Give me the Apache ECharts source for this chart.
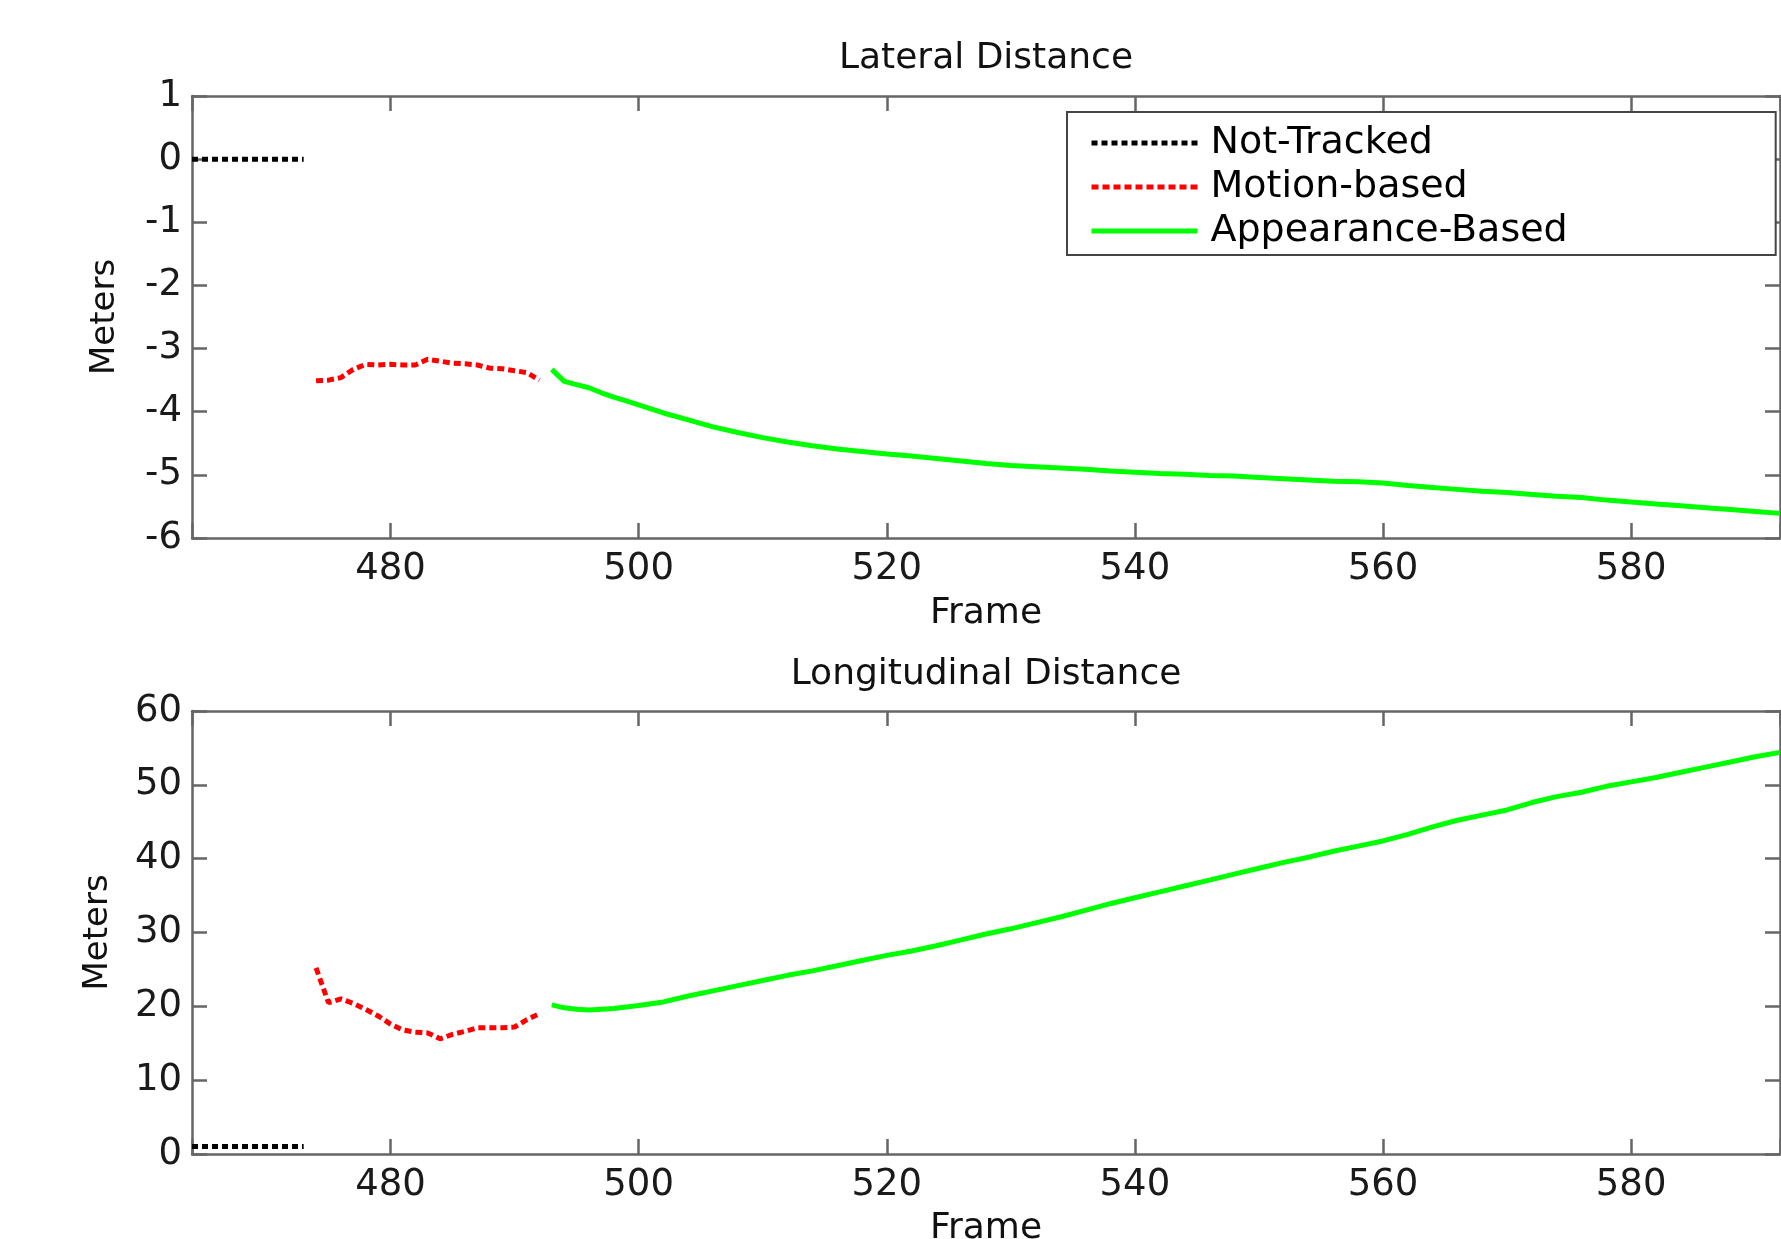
<!DOCTYPE html>
<html>
<head>
<meta charset="utf-8">
<title>Lateral / Longitudinal Distance</title>
<script src="https://cdn.jsdelivr.net/npm/echarts@6/dist/echarts.min.js"></script>
<style>
  html, body { margin: 0; padding: 0; background: #fff; }
  #chart { width: 1781px; height: 1239px; }
</style>
</head>
<body>
<div id="chart"></div>
<script>
// frames and values
const notTrackedFrames = [464, 465, 466, 467, 468, 469, 470, 471, 472, 473];
const notTrackedLateral = [0, 0, 0, 0, 0, 0, 0, 0, 0, 0];
const notTrackedLongitudinal = [1, 1, 1, 1, 1, 1, 1, 1, 1, 1];

const motionFrames = [474, 475, 476, 477, 478, 479, 480, 481, 482, 483, 484, 485, 486, 487, 488, 489, 490, 491, 492];
const motionLateral = [-3.51, -3.50, -3.46, -3.33, -3.25, -3.26, -3.25, -3.26, -3.26, -3.17, -3.20, -3.23, -3.24, -3.26, -3.31, -3.32, -3.35, -3.38, -3.50];
const motionLongitudinal = [25.2, 20.5, 21.0, 20.4, 19.6, 18.7, 17.6, 16.8, 16.5, 16.4, 15.6, 16.2, 16.6, 17.1, 17.1, 17.1, 17.2, 18.2, 19.0];

const appearanceFrames = [493, 494, 495, 496, 497, 498, 499, 500, 502, 504, 506, 508, 510, 512, 514, 516, 518, 520,
  522, 524, 526, 528, 530, 532, 534, 536, 538, 540, 542, 544, 546, 548, 550, 552, 554, 556, 558, 560,
  562, 564, 566, 568, 570, 572, 574, 576, 578, 580, 582, 584, 586, 588, 590, 592];
const appearanceLateral = [-3.33, -3.52, -3.57, -3.62, -3.70, -3.77, -3.83, -3.89, -4.02, -4.13, -4.24, -4.33, -4.41, -4.48, -4.54, -4.59, -4.63, -4.67,
  -4.70, -4.74, -4.78, -4.82, -4.85, -4.87, -4.89, -4.91, -4.94, -4.96, -4.98, -4.99, -5.01, -5.02, -5.04, -5.06, -5.08, -5.10, -5.11, -5.13,
  -5.17, -5.20, -5.23, -5.26, -5.28, -5.31, -5.34, -5.36, -5.40, -5.43, -5.46, -5.49, -5.52, -5.55, -5.58, -5.61];
const appearanceLongitudinal = [20.2, 19.8, 19.6, 19.5, 19.6, 19.7, 19.9, 20.1, 20.6, 21.4, 22.1, 22.8, 23.5, 24.2, 24.8, 25.5, 26.2, 26.9,
  27.5, 28.2, 29.0, 29.8, 30.5, 31.3, 32.1, 33.0, 33.9, 34.7, 35.5, 36.3, 37.1, 37.9, 38.7, 39.5, 40.2, 41.0, 41.7, 42.4,
  43.3, 44.3, 45.2, 45.9, 46.6, 47.6, 48.4, 49.0, 49.8, 50.4, 51.0, 51.7, 52.4, 53.1, 53.8, 54.4];

const frameRange = [464, 592];
const lateralRange = [-6, 1];
const longitudinalRange = [0, 60];

const FONT = 'DejaVu Sans';
const AXIS_COLOR = '#666';

const zip = (xs, ys) => xs.map((x, i) => [x, ys[i]]);

const boxLine = { show: true, onZero: false, lineStyle: { color: AXIS_COLOR, width: 2.5 } };
const boxTick = { show: true, inside: true, length: 15, lineStyle: { color: AXIS_COLOR, width: 2.5 } };

function frameAxis(grid, pos, name, gap) {
  return {
    type: 'value', gridIndex: grid, position: pos,
    min: frameRange[0], max: frameRange[1], splitNumber: 6,
    name: name, nameLocation: 'middle', nameGap: gap,
    nameTextStyle: { fontFamily: FONT, fontSize: 36, color: '#111' },
    axisLine: boxLine, axisTick: boxTick, splitLine: { show: false },
    axisLabel: {
      show: pos === 'bottom', margin: 13, fontFamily: FONT, fontSize: 37, color: '#1a1a1a',
      formatter: v => (v % 20 === 0 ? String(v) : '')
    }
  };
}

function meterAxis(grid, pos, range, step, gap) {
  return {
    type: 'value', gridIndex: grid, position: pos,
    min: range[0], max: range[1], interval: step,
    name: pos === 'left' ? 'Meters' : '', nameLocation: 'middle', nameGap: gap,
    nameTextStyle: { fontFamily: FONT, fontSize: 34, color: '#111' },
    axisLine: boxLine, axisTick: boxTick, splitLine: { show: false },
    axisLabel: { show: pos === 'left', margin: 10, fontFamily: FONT, fontSize: 37, color: '#1a1a1a' }
  };
}

function lineSeries(name, xi, frames, values, color, dash) {
  return {
    name: name, type: 'line', xAxisIndex: xi, yAxisIndex: xi,
    data: zip(frames, values), symbol: 'none', clip: true,
    itemStyle: { color: color },
    lineStyle: { color: color, width: 5, type: dash, cap: 'butt' }
  };
}

const chart = echarts.init(document.getElementById('chart'));
chart.setOption({
  animation: false,
  backgroundColor: '#fff',
  grid: [
    { left: 192, top: 96, right: 1, height: 442, outerBoundsMode: 'none' },
    { left: 192, top: 711, right: 1, height: 443, outerBoundsMode: 'none' }
  ],
  xAxis: [
    frameAxis(0, 'bottom', 'Frame', 58),
    frameAxis(0, 'top', 'Lateral Distance', 19),
    frameAxis(1, 'bottom', 'Frame', 57),
    frameAxis(1, 'top', 'Longitudinal Distance', 18)
  ],
  yAxis: [
    meterAxis(0, 'left', lateralRange, 1, 70),
    meterAxis(0, 'right', lateralRange, 1, 0),
    meterAxis(1, 'left', longitudinalRange, 10, 77),
    meterAxis(1, 'right', longitudinalRange, 10, 0)
  ],
  legend: {
    data: ['Not-Tracked', 'Motion-based', 'Appearance-Based'],
    orient: 'vertical', left: 1067, top: 112,
    padding: [11, 208, 4, 22],
    itemWidth: 106, itemHeight: 14, itemGap: 4,
    backgroundColor: '#fff', borderColor: '#444', borderWidth: 2,
    itemStyle: { opacity: 0 },
    lineStyle: { width: 5 },
    textStyle: { fontFamily: FONT, fontSize: 38, lineHeight: 40, color: '#000', padding: [0, 0, 0, 8] }
  },
  series: [
    lineSeries('Not-Tracked', 0, notTrackedFrames, notTrackedLateral, '#000000', [6, 4]),
    lineSeries('Motion-based', 0, motionFrames, motionLateral, '#ff0000', [7, 4]),
    lineSeries('Appearance-Based', 0, appearanceFrames, appearanceLateral, '#00ff00', 'solid'),
    lineSeries('Not-Tracked', 2, notTrackedFrames, notTrackedLongitudinal, '#000000', [6, 4]),
    lineSeries('Motion-based', 2, motionFrames, motionLongitudinal, '#ff0000', [7, 4]),
    lineSeries('Appearance-Based', 2, appearanceFrames, appearanceLongitudinal, '#00ff00', 'solid')
  ]
});
window.onresize = () => chart.resize();
</script>
</body>
</html>
